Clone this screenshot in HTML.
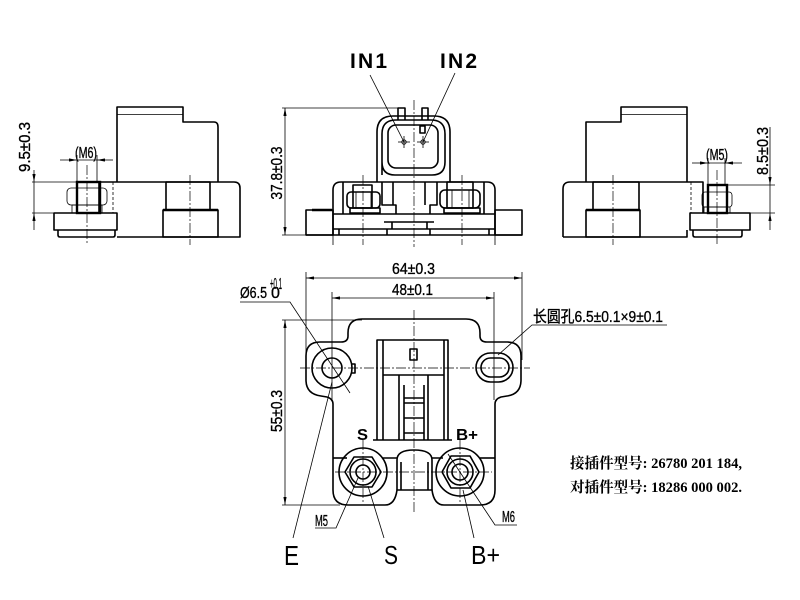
<!DOCTYPE html>
<html><head><meta charset="utf-8"><style>
html,body{margin:0;padding:0;background:#fff;}
svg{display:block;}
.o{fill:none;stroke:#000;stroke-width:1.6;stroke-linejoin:round;}
.t{fill:none;stroke:#000;stroke-width:0.8;}
.c{fill:none;stroke:#000;stroke-width:0.7;stroke-dasharray:10 2 2 2;}
.d{fill:none;stroke:#000;stroke-width:0.8;stroke-dasharray:3 2;}
.dim{font-family:"Liberation Sans Narrow","Liberation Sans",sans-serif;font-size:16px;fill:#000;stroke:#000;stroke-width:0.35;}
.big{font-family:"Liberation Sans",sans-serif;fill:#000;}
.cn{font-family:"Liberation Serif","Noto Serif CJK SC",serif;font-size:15px;fill:#000;font-weight:bold;}
</style></head><body>
<svg width="800" height="600" viewBox="0 0 800 600" xmlns="http://www.w3.org/2000/svg">
<defs>
<marker id="ar" viewBox="0 0 10 4" refX="10" refY="2" markerWidth="8" markerHeight="3.2" markerUnits="userSpaceOnUse" orient="auto-start-reverse"><path d="M0,0 L10,2 L0,4z" fill="#000"/></marker>
</defs>

<!-- ================= LEFT VIEW ================= -->
<path class="o" d="M117,182 V107 H183 V122 H214 Q218,122 218,127 V182"/>
<line class="t" x1="117" y1="114.5" x2="183" y2="114.5"/>
<path class="o" d="M99,182 H234 Q240,182 240,188 V237 H117"/>
<line class="o" x1="99" y1="182" x2="99" y2="213"/>
<rect class="o" x="54" y="213" width="63" height="17"/>
<path class="o" d="M58,230 V235 Q58,237 60,237 H113 Q115,237 115,235 V230"/>
<rect class="o" x="166" y="182" width="44" height="28"/>
<rect class="o" x="163" y="210" width="55" height="27"/>
<line x1="163" y1="210" x2="218" y2="210" stroke="#000" stroke-width="2.4"/>
<line class="d" x1="113" y1="182" x2="113" y2="213"/>
<rect class="t" x="67" y="188" width="40" height="17" rx="4"/>
<rect class="t" x="72" y="205" width="30" height="8"/>
<rect x="77" y="182" width="23" height="31" fill="none" stroke="#000" stroke-width="2.4"/>
<line class="c" x1="87" y1="165" x2="87" y2="245"/>
<line class="c" x1="190" y1="175" x2="190" y2="245"/>
<!-- dims left -->
<line class="t" x1="32" y1="182" x2="77" y2="182"/>
<line class="t" x1="32" y1="213" x2="77" y2="213"/>
<line class="t" x1="34" y1="170" x2="34" y2="182" marker-end="url(#ar)"/>
<line class="t" x1="34" y1="182" x2="34" y2="213"/>
<line class="t" x1="34" y1="230" x2="34" y2="213" marker-end="url(#ar)"/>
<text class="dim" transform="translate(30,147) rotate(-90)" text-anchor="middle" textLength="50" lengthAdjust="spacingAndGlyphs">9.5±0.3</text>
<line class="t" x1="77" y1="155" x2="77" y2="182"/>
<line class="t" x1="97" y1="155" x2="97" y2="182"/>
<line class="t" x1="60" y1="160" x2="77" y2="160" marker-end="url(#ar)"/>
<line class="t" x1="77" y1="160" x2="97" y2="160"/>
<line class="t" x1="113" y1="160" x2="97" y2="160" marker-end="url(#ar)"/>
<text class="dim" x="75" y="158" textLength="22" lengthAdjust="spacingAndGlyphs" font-size="13">(M6)</text>

<!-- ================= CENTER TOP VIEW ================= -->
<text class="big" x="350" y="68" font-size="21" font-weight="bold" textLength="37" lengthAdjust="spacing">IN1</text>
<text class="big" x="440" y="68" font-size="21" font-weight="bold" textLength="37" lengthAdjust="spacing">IN2</text>
<line class="t" x1="370" y1="75" x2="404" y2="142"/>
<line class="t" x1="455" y1="73" x2="423" y2="142"/>
<!-- connector -->
<path class="o" d="M377,182 V132 Q377,116 393,116 H434 Q450,116 450,132 V182"/>
<path class="o" d="M382,175 V134 Q382,120 396,120 H431 Q445,120 445,134 V162 Q445,175 432,175 H395 Q382,175 382,162"/>
<rect class="o" x="388" y="125" width="50" height="43" rx="8"/>
<path class="o" d="M398,120 V108 H405 V120"/>
<path class="o" d="M422,120 V108 H428 V120"/>
<rect class="o" x="420" y="126" width="5" height="7"/>
<circle class="t" cx="404" cy="142" r="2.2"/>
<circle class="t" cx="423" cy="142" r="2.2"/>
<line class="t" x1="398" y1="142" x2="410" y2="142"/><line class="t" x1="404" y1="136" x2="404" y2="148"/>
<line class="t" x1="417" y1="142" x2="429" y2="142"/><line class="t" x1="423" y1="136" x2="423" y2="148"/>
<!-- base -->
<path class="o" d="M333,235 V190 Q333,182 341,182 H487 Q495,182 495,190 V235"/>
<line class="o" x1="306" y1="235" x2="522" y2="235"/>
<rect class="o" x="306" y="210" width="27" height="25"/>
<rect class="o" x="495" y="210" width="27" height="25"/>
<line x1="312" y1="210" x2="332" y2="210" stroke="#000" stroke-width="2.4"/>
<line class="o" x1="333" y1="214" x2="495" y2="214"/>
<line class="o" x1="333" y1="229" x2="495" y2="229"/>
<line class="o" x1="343" y1="182" x2="343" y2="214"/>
<line class="o" x1="484" y1="182" x2="484" y2="214"/>
<line class="o" x1="339" y1="229" x2="339" y2="235"/>
<line class="o" x1="489" y1="229" x2="489" y2="235"/>
<path class="o" d="M382,182 V205 H396 V214"/>
<path class="o" d="M393,182 V205"/>
<path class="o" d="M437,182 V205 H430 V214"/>
<path class="o" d="M425,182 V205"/>
<path class="o" d="M384,222 H434"/>
<path class="o" d="M392,222 V229 M427,222 V229"/>
<path class="o" d="M387,229 V235 M430,229 V235"/>
<!-- nuts -->
<rect class="o" x="347" y="192" width="33" height="16" rx="4"/>
<rect class="o" x="353" y="185" width="19" height="23"/>
<line class="t" x1="356" y1="192" x2="356" y2="208"/>
<line class="t" x1="371" y1="192" x2="371" y2="208"/>
<rect class="o" x="350" y="208" width="30" height="5"/>
<rect class="o" x="440" y="190" width="40" height="18" rx="5"/>
<rect class="o" x="447" y="182" width="26" height="26"/>
<line class="t" x1="452" y1="190" x2="452" y2="208"/>
<line class="t" x1="469" y1="190" x2="469" y2="208"/>
<rect class="o" x="444" y="208" width="36" height="5"/>
<line class="c" x1="363" y1="175" x2="363" y2="245"/>
<line class="c" x1="462" y1="175" x2="462" y2="245"/>
<line class="c" x1="414" y1="100" x2="414" y2="247"/>
<line class="t" x1="333" y1="235" x2="333" y2="245"/>
<line class="t" x1="495" y1="235" x2="495" y2="245"/>
<!-- 37.8 dim -->
<line class="t" x1="282" y1="108" x2="398" y2="108"/>
<line class="t" x1="282" y1="235" x2="306" y2="235"/>
<line class="t" x1="285" y1="108" x2="285" y2="235" marker-start="url(#ar)" marker-end="url(#ar)"/>
<text class="dim" transform="translate(282,173) rotate(-90)" text-anchor="middle" textLength="53" lengthAdjust="spacingAndGlyphs">37.8±0.3</text>

<!-- ================= RIGHT VIEW ================= -->
<path class="o" d="M586,182 V122 H621 V107 H687 V182"/>
<line class="t" x1="621" y1="114.5" x2="687" y2="114.5"/>
<path class="o" d="M563,237 V189 Q563,182 570,182 H703 V213"/>
<path class="o" d="M563,237 H687 V230"/>
<rect class="o" x="690" y="213" width="60" height="17"/>
<path class="o" d="M693,230 V235 Q693,237 695,237 H740 Q742,237 742,235 V230"/>
<rect class="o" x="593" y="182" width="46" height="28"/>
<rect class="o" x="586" y="210" width="54" height="27"/>
<line x1="586" y1="210" x2="640" y2="210" stroke="#000" stroke-width="2.4"/>
<line class="d" x1="691" y1="182" x2="691" y2="213"/>
<rect class="t" x="702" y="192" width="30" height="15" rx="3"/>
<rect class="t" x="704" y="207" width="26" height="6"/>
<rect x="708" y="185" width="19" height="28" fill="none" stroke="#000" stroke-width="2.4"/>
<line class="c" x1="717" y1="170" x2="717" y2="245"/>
<line class="c" x1="613" y1="175" x2="613" y2="245"/>
<!-- dims right -->
<line class="t" x1="727" y1="185" x2="775" y2="185"/>
<line class="t" x1="727" y1="213" x2="775" y2="213"/>
<line class="t" x1="770" y1="127" x2="770" y2="185" marker-end="url(#ar)"/>
<line class="t" x1="770" y1="185" x2="770" y2="213"/>
<line class="t" x1="770" y1="230" x2="770" y2="213" marker-end="url(#ar)"/>
<text class="dim" transform="translate(768,151) rotate(-90)" text-anchor="middle" textLength="48" lengthAdjust="spacingAndGlyphs">8.5±0.3</text>
<line class="t" x1="708" y1="158" x2="708" y2="185"/>
<line class="t" x1="725" y1="158" x2="725" y2="185"/>
<line class="t" x1="692" y1="163" x2="708" y2="163" marker-end="url(#ar)"/>
<line class="t" x1="708" y1="163" x2="725" y2="163"/>
<line class="t" x1="742" y1="163" x2="725" y2="163" marker-end="url(#ar)"/>
<text class="dim" x="706" y="160" textLength="22" lengthAdjust="spacingAndGlyphs" font-size="13">(M5)</text>

<!-- ================= BOTTOM VIEW ================= -->
<path class="o" d="M362,319 H466 Q480,319 480,333 V336 Q480,342 487,342 H507 Q521,342 521,356 V380 Q521,394 507,396 L501,397 Q495,399 495,404 V490 Q495,505 480,505 H444 Q434,505 432,490 H397 Q395,505 385,505 H348 Q333,505 333,490 V404 Q333,399 327,397 L321,396 Q306,394 306,380 V356 Q306,342 320,342 H341 Q348,342 348,336 V333 Q348,319 362,319 Z"/>
<circle class="o" cx="332" cy="368" r="20"/>
<circle class="o" cx="332" cy="368" r="10"/>
<path class="o" d="M351,364 H355 V373 H351"/>
<rect class="o" x="476" y="353" width="37" height="29" rx="14.5"/>
<rect class="o" x="481" y="358" width="28" height="19" rx="9.5"/>
<path class="o" d="M377,440 V340 H448 V440"/>
<path class="o" d="M383,440 V340 M444,440 V340"/>
<line class="o" x1="383" y1="375" x2="444" y2="375"/>
<path class="o" d="M399,440 V375 M428,440 V375"/>
<path class="o" d="M404,440 V385 M424,440 V385"/>
<line class="o" x1="404" y1="398" x2="424" y2="398"/>
<line class="o" x1="404" y1="403" x2="424" y2="403"/>
<line class="o" x1="404" y1="418" x2="424" y2="418"/>
<line class="o" x1="404" y1="433" x2="424" y2="433"/>
<rect class="o" x="410" y="349" width="7" height="11"/>
<line class="o" x1="373" y1="440" x2="452" y2="440"/>
<path class="o" d="M333,458 H347"/>
<path class="o" d="M480,458 H495"/>
<path class="o" d="M382,458 H397 M432,458 H443"/>
<path class="o" d="M397,490 V460 Q397,450 414,450 Q432,450 432,460 V490"/>
<path class="o" d="M401,490 V462 M428,490 V462"/>
<circle class="o" cx="363" cy="472" r="24"/>
<circle class="o" cx="460" cy="472" r="24"/>
<polygon class="o" points="354,457 372,457 381,472 372,487 354,487 345,472"/>
<polygon class="o" points="451,456 470,456 479,472 470,488 451,488 442,472"/>
<circle class="o" cx="363" cy="472" r="13"/>
<circle class="o" cx="363" cy="472" r="7"/>
<circle class="o" cx="460" cy="472" r="13"/>
<circle class="o" cx="460" cy="472" r="8"/>
<line class="c" x1="414" y1="310" x2="414" y2="512"/>
<line class="c" x1="300" y1="368" x2="530" y2="368"/>
<line class="c" x1="335" y1="472" x2="492" y2="472"/>
<line class="c" x1="363" y1="440" x2="363" y2="502"/>
<line class="c" x1="460" y1="440" x2="460" y2="502"/>
<line class="t" x1="332" y1="292" x2="332" y2="400"/>
<line class="t" x1="494" y1="292" x2="494" y2="400"/>
<!-- 64 dim -->
<line class="t" x1="306" y1="272" x2="306" y2="360"/>
<line class="t" x1="522" y1="272" x2="522" y2="360"/>
<line class="t" x1="306" y1="278" x2="522" y2="278" marker-start="url(#ar)" marker-end="url(#ar)"/>
<text class="dim" x="392" y="274" textLength="43" lengthAdjust="spacingAndGlyphs">64±0.3</text>
<!-- 48 dim -->
<line class="t" x1="332" y1="298" x2="494" y2="298" marker-start="url(#ar)" marker-end="url(#ar)"/>
<text class="dim" x="392" y="295" textLength="41" lengthAdjust="spacingAndGlyphs">48±0.1</text>
<!-- 55 dim -->
<line class="t" x1="282" y1="320" x2="362" y2="320"/>
<line class="t" x1="282" y1="505" x2="340" y2="505"/>
<line class="t" x1="285" y1="320" x2="285" y2="505" marker-start="url(#ar)" marker-end="url(#ar)"/>
<text class="dim" transform="translate(282,411) rotate(-90)" text-anchor="middle" textLength="42" lengthAdjust="spacingAndGlyphs">55±0.3</text>
<!-- Ø6.5 -->
<text class="dim" x="240" y="298" textLength="27" lengthAdjust="spacingAndGlyphs">Ø6.5</text>
<text class="dim" x="270" y="289" font-size="9" stroke-width="0.2" textLength="12" lengthAdjust="spacingAndGlyphs">+0.1</text>
<text class="dim" x="271" y="298" font-size="9" stroke-width="0.2">0</text>
<polyline class="t" points="240,302 290,302 350,393"/>
<!-- long hole label -->
<text class="dim" x="533" y="322" font-size="15" font-family="'Liberation Sans Narrow','Liberation Sans','Noto Sans CJK SC',sans-serif" textLength="130" lengthAdjust="spacingAndGlyphs">长圆孔6.5±0.1×9±0.1</text>
<polyline class="t" points="667,325 532,325 498,355"/>
<!-- small labels -->
<text class="big" x="357" y="440" font-size="16" font-weight="bold" textLength="11" lengthAdjust="spacingAndGlyphs">S</text>
<text class="big" x="456" y="440" font-size="16" font-weight="bold" textLength="22" lengthAdjust="spacingAndGlyphs">B+</text>
<!-- leaders -->
<line class="t" x1="293" y1="538" x2="332" y2="382"/>
<line class="t" x1="384" y1="538" x2="368" y2="486"/>
<line class="t" x1="474" y1="538" x2="463" y2="490"/>
<polyline class="t" points="315,528 336,528 358,478"/>
<polyline class="t" points="517,525 495,525 448,454"/>
<text class="dim" x="315" y="526" font-size="12" stroke-width="0.3" textLength="13" lengthAdjust="spacingAndGlyphs">M5</text>
<text class="dim" x="502" y="522" font-size="12" stroke-width="0.3" textLength="13" lengthAdjust="spacingAndGlyphs">M6</text>
<!-- big labels -->
<text class="big" x="284" y="565" font-size="28" textLength="15" lengthAdjust="spacingAndGlyphs">E</text>
<text class="big" x="384" y="564" font-size="26" textLength="14" lengthAdjust="spacingAndGlyphs">S</text>
<text class="big" x="471" y="564" font-size="26" textLength="29" lengthAdjust="spacingAndGlyphs">B+</text>

<!-- ================= NOTES ================= -->
<text class="cn" x="570" y="468" textLength="172" lengthAdjust="spacingAndGlyphs">接插件型号: 26780 201 184,</text>
<text class="cn" x="570" y="492" textLength="172" lengthAdjust="spacingAndGlyphs">对插件型号: 18286 000 002.</text>
</svg>
</body></html>
